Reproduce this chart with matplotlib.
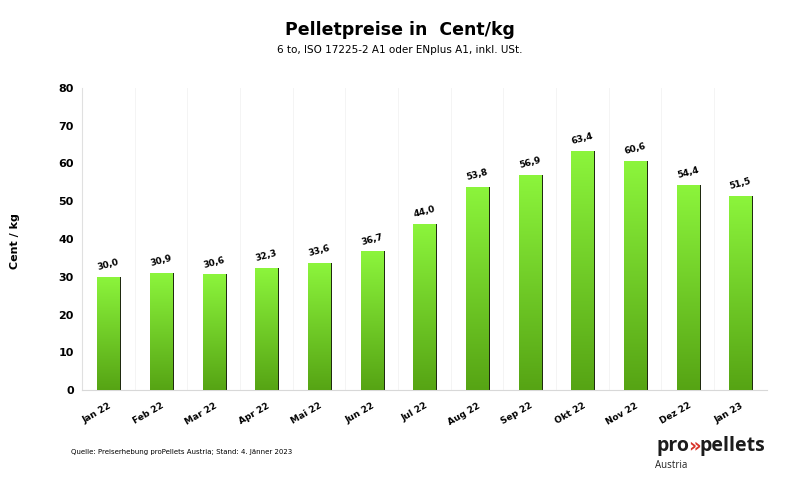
import numpy as np
import matplotlib.pyplot as plt
from matplotlib.colors import LinearSegmentedColormap

months = ["Jan 22", "Feb 22", "Mar 22", "Apr 22", "Mai 22", "Jun 22", "Jul 22",
          "Aug 22", "Sep 22", "Okt 22", "Nov 22", "Dez 22", "Jan 23"]
prices = [30.0, 30.9, 30.6, 32.3, 33.6, 36.7, 44.0, 53.8, 56.9, 63.4, 60.6, 54.4, 51.5]
y_ticks = [0, 10, 20, 30, 40, 50, 60, 70, 80]

fig = plt.figure(figsize=(8, 4.86), dpi=100)
ax = fig.add_axes([0.1025, 0.1975, 0.856, 0.6215])

x = np.arange(len(months))
bar_w = 0.42
green = LinearSegmentedColormap.from_list("g", ["#56a414", "#8cf53c"])
grad = np.linspace(0, 1, 256).reshape(-1, 1)

# dark shadow on the right side of each bar
ax.bar(x + 0.035, prices, width=bar_w, color="#1f2a10", zorder=2)
bars = ax.bar(x, prices, width=bar_w, color="none", zorder=3)
for b in bars:
    x0, w, h = b.get_x(), b.get_width(), b.get_height()
    im = ax.imshow(grad, cmap=green, aspect="auto", origin="lower",
                   extent=[x0, x0 + w, 0, h], zorder=3)
    im.set_clip_path(b)

for xi, v in zip(x, prices):
    ax.text(xi, v + 1.3, f"{v:.1f}".replace(".", ","), ha="center", va="bottom",
            fontsize=6.5, fontweight="bold", rotation=15)

ax.set_xlim(-0.5, len(months) - 0.5)
ax.set_ylim(0, 80)
ax.set_yticks(y_ticks)
ax.set_yticklabels([str(t) for t in y_ticks], fontsize=8, fontweight="bold")
ax.set_xticks(x)
ax.set_xticklabels(months, fontsize=6.5, fontweight="bold", rotation=30,
                   ha="right", rotation_mode="anchor")
ax.tick_params(axis="both", length=0, pad=6)
ax.tick_params(axis="x", pad=8)
for xb in np.arange(-0.5, len(months), 1):
    ax.axvline(xb, color="#f2f2f2", lw=0.6, zorder=0)
for s in ["top", "right"]:
    ax.spines[s].set_visible(False)
ax.spines["left"].set_color("#e0e0e0")
ax.spines["bottom"].set_color("#d8d8d8")

fig.text(0.012, 0.505, "Cent / kg", rotation=90, ha="left", va="center",
         fontsize=8, fontweight="bold")
fig.text(0.5, 0.938, "Pelletpreise in  Cent/kg", ha="center", va="center",
         fontsize=12.5, fontweight="bold")
fig.text(0.5, 0.897, "6 to, ISO 17225-2 A1 oder ENplus A1, inkl. USt.",
         ha="center", va="center", fontsize=7.5)
fig.text(0.089, 0.07, "Quelle: Preiserhebung proPellets Austria; Stand: 4. Jänner 2023",
         ha="left", va="center", fontsize=5)

# logo: chain the three parts one after another
fig.canvas.draw()
r = fig.canvas.get_renderer()
xpos = 656
for part, col, fam in [("pro", "#1c1c1c", "Open Sans"), ("»", "#d8342a", "DejaVu Sans"),
                       ("pellets", "#1c1c1c", "Open Sans")]:
    t = fig.text(xpos / 800, 0.083, part, ha="left", va="center", fontsize=14,
                 fontweight="bold", color=col, family=fam)
    xpos = t.get_window_extent(r).x1 - 1
fig.text(0.819, 0.043, "Austria", ha="left", va="center", fontsize=7,
         color="#222222", family="Open Sans")

fig.savefig("out.png", dpi=100)
